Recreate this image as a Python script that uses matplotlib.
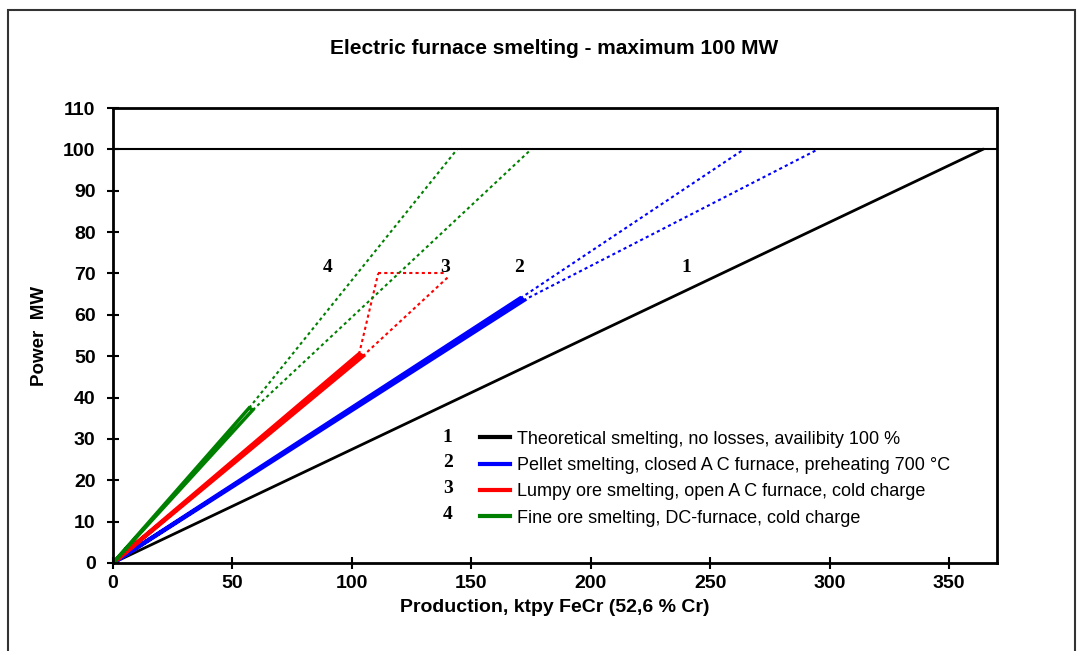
#!/usr/bin/env python
# coding=utf-8

"""
Electric furnace smelting chart: power needed against FeCr production.
"""

import matplotlib
matplotlib.use('Agg')

from matplotlib import pyplot as plt
from matplotlib.patches import Rectangle

# solid bands, drawn as thin closed outlines from the origin
BAND_X = {
    'pellet': [0, 170.5, 171.8, 0],
    'lumpy': [0, 103, 104.5, 0],
    'fine': [0, 57, 58.5, 0],
}
BAND_Y = {
    'pellet': [0, 64, 63.5, 0],
    'lumpy': [0, 50.5, 50, 0],
    'fine': [0, 37.5, 37, 0],
}

# dotted extrapolations, (x list, y list) per segment
DOTTED = {
    'pellet': [([170.5, 264], [64, 100]), ([171.8, 295], [63.5, 100])],
    'lumpy': [([103, 111], [50.5, 70]), ([104.5, 140], [50, 69]),
              ([111, 139], [70, 70])],
    'fine': [([57, 144], [37.5, 100]), ([58.5, 175], [37, 100])],
}

THEORY_X = [0, 364]
THEORY_Y = [0, 100]

MAX_POWER = 100

COLORS = {
    'theory': 'black',
    'pellet': '#0000ff',
    'lumpy': '#ff0000',
    'fine': '#008000',
}

LABELS = {
    'theory': u"Theoretical smelting, no losses, availibity 100 %",
    'pellet': u"Pellet smelting, closed A C furnace, preheating 700 °C",
    'lumpy': u"Lumpy ore smelting, open A C furnace, cold charge",
    'fine': u"Fine ore smelting, DC-furnace, cold charge",
}

# curve numbers written inside the plot
NUM_TEXT = ['1', '2', '3', '4']
NUM_X = [240, 170, 139, 90]
NUM_Y = [71.5, 71.5, 71.5, 71.5]

XTICKS = [0, 50, 100, 150, 200, 250, 300, 350]
YTICKS = [0, 10, 20, 30, 40, 50, 60, 70, 80, 90, 100, 110]

SANS = ['Liberation Sans', 'DejaVu Sans']
SERIF = ['Liberation Serif', 'DejaVu Serif']

fig = plt.figure(figsize=(10.79, 6.51), dpi=100)
ax = fig.add_axes([0.1047, 0.1352, 0.8193, 0.6988])

# outer chart frame
fig.patches.append(Rectangle((0.0075, -0.05), 0.989, 1.035,
                             transform=fig.transFigure, fill=False,
                             edgecolor='#333333', linewidth=1.5))

ax.plot(THEORY_X, THEORY_Y, color=COLORS['theory'], linewidth=2,
        label=LABELS['theory'])

for key in ['pellet', 'lumpy', 'fine']:
    lw = 3 if key != 'fine' else 2.5
    ax.plot(BAND_X[key], BAND_Y[key], color=COLORS[key], linewidth=lw,
            label=LABELS[key], solid_joinstyle='miter')
    for xs, ys in DOTTED[key]:
        ax.plot(xs, ys, color=COLORS[key], linewidth=1.5,
                linestyle=(0, (1.5, 1.5)))

ax.axhline(MAX_POWER, color='black', linewidth=1.5)

for t, x, y in zip(NUM_TEXT, NUM_X, NUM_Y):
    ax.text(x, y, t, ha='center', va='center', fontsize=14,
            fontweight='bold', family=SERIF)

ax.set_xlim(0, 370)
ax.set_ylim(0, 110)
ax.set_xticks(XTICKS)
ax.set_yticks(YTICKS)
for lab in ax.get_xticklabels() + ax.get_yticklabels():
    lab.set_fontweight('bold')
    lab.set_fontsize(14)
    lab.set_family(SANS)
ax.tick_params(direction='inout', length=9, width=1.5, colors='black')
ax.tick_params(axis='x', pad=4)
ax.tick_params(axis='y', pad=8)
for sp in ax.spines.values():
    sp.set_linewidth(2)

ax.set_xlabel(u"Production, ktpy FeCr (52,6 % Cr)", fontsize=14,
              fontweight='bold', family=SANS, labelpad=5)
ax.set_ylabel(u"Power  MW", fontsize=13.5, fontweight='bold',
              family=SANS, labelpad=11)
fig.text(0.514, 0.925, u"Electric furnace smelting - maximum 100 MW",
         ha='center', va='center', fontsize=15, fontweight='bold',
         family=SANS)

leg = ax.legend(loc='upper left', bbox_to_anchor=(0.407, 0.307),
                frameon=False, handlelength=1.65, handletextpad=0.4,
                labelspacing=0.52, borderaxespad=0,
                prop={'family': SANS, 'size': 13})
for line in leg.get_lines():
    line.set_linewidth(3)

for i, t in enumerate(NUM_TEXT):
    fig.text(0.415, 0.328 - i * 0.0392, t, ha='center', va='center',
             fontsize=14, fontweight='bold', family=SERIF)

plt.savefig('out.png', dpi=100)
